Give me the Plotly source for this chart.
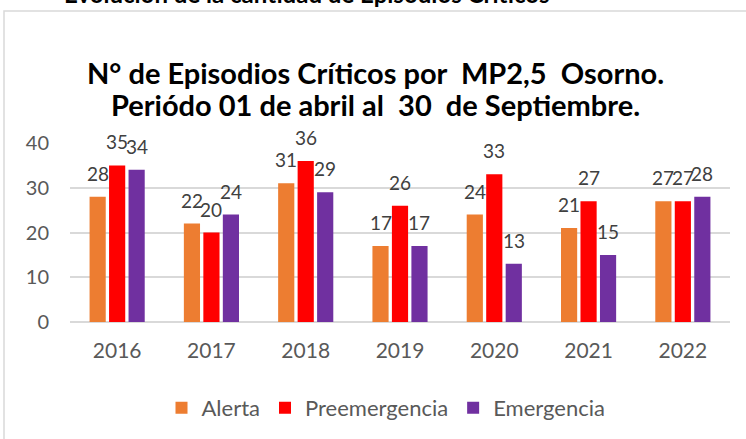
import plotly.graph_objects as go

years = ["2016", "2017", "2018", "2019", "2020", "2021", "2022"]
alerta = [28, 22, 31, 17, 24, 21, 27]
preemergencia = [35, 20, 36, 26, 33, 27, 27]
emergencia = [34, 24, 29, 17, 13, 15, 28]
series_names = ["Alerta", "Preemergencia", "Emergencia"]
colors = ["#ED7D31", "#FF0000", "#7030A0"]

font_family = "Lato, 'Liberation Sans', sans-serif"

L, R, T, B = 70, 16, 143, 117
W, H = 746, 439
pw, ph = W - L - R, H - T - B
BARGAP, GROUPGAP = 0.38, 0.17
slot = pw / len(years) * (1 - BARGAP) / len(series_names)


def px_x(x):
    return (x - L) / pw


def px_y(y):
    return (H - B - y) / ph


fig = go.Figure()
label_annotations = []
all_series = [alerta, preemergencia, emergencia]
for i, (name, vals, col) in enumerate(zip(series_names, all_series, colors)):
    fig.add_trace(go.Bar(
        x=years, y=vals, name=name,
        marker=dict(color=col, line=dict(width=0)),
        cliponaxis=False,
    ))
    for j, v in enumerate(vals):
        # category index j on the category axis
        label_annotations.append(dict(
            x=j, y=v, xref="x", yref="y", text=str(v), showarrow=False,
            xanchor="center", yanchor="bottom", yshift=10,
            xshift=(i - (len(series_names) - 1) / 2) * slot,
            font=dict(size=19, color="#404040", family=font_family),
        ))

fig.update_layout(
    width=W, height=H,
    margin=dict(l=L, r=R, t=T, b=B, autoexpand=False),
    paper_bgcolor="white", plot_bgcolor="white",
    barmode="group", bargap=BARGAP, bargroupgap=GROUPGAP,
    font=dict(family=font_family, color="#595959", size=18),
    showlegend=True,
    legend=dict(orientation="h", x=px_x(386), xanchor="center", y=px_y(408), yanchor="middle",
                font=dict(size=22, color="#595959"), itemwidth=30, traceorder="normal"),
    xaxis=dict(type="category", categoryarray=years, categoryorder="array",
               showgrid=False, showline=False, ticks="", automargin=False,
               ticklabelstandoff=14, tickfont=dict(size=21, color="#595959")),
    yaxis=dict(range=[0, 40], dtick=10, showgrid=True, gridcolor="#D9D9D9", gridwidth=1.5,
               zeroline=True, zerolinecolor="#D9D9D9", zerolinewidth=1.5, showline=False,
               ticks="", automargin=False, ticklabelstandoff=20,
               tickfont=dict(size=20, color="#595959")),
    annotations=label_annotations + [
        dict(text="<b>N° de Episodios Críticos por  MP2,5  Osorno.</b>",
             xref="paper", yref="paper", x=px_x(375), y=px_y(72),
             xanchor="center", yanchor="middle", showarrow=False,
             font=dict(size=29, color="black", family=font_family)),
        dict(text="<b>Periódo 01 de abril al  30  de Septiembre.</b>",
             xref="paper", yref="paper", x=px_x(375), y=px_y(105),
             xanchor="center", yanchor="middle", showarrow=False,
             font=dict(size=29, color="black", family=font_family)),
        dict(text="<b>Evolución de la cantidad de Episodios Críticos</b>",
             xref="paper", yref="paper", x=px_x(552), y=px_y(-7),
             xanchor="right", yanchor="middle", showarrow=False,
             font=dict(size=24, color="black", family=font_family)),
    ],
    shapes=[
        dict(type="rect", xref="paper", yref="paper",
             x0=px_x(4), x1=px_x(760), y0=px_y(460), y1=px_y(11),
             line=dict(color="#D9D9D9", width=1.5), fillcolor="rgba(0,0,0,0)", layer="below"),
    ],
)

fig.write_html("out.html", config={"displayModeBar": False},
               post_script="document.body.style.margin='0';document.body.style.overflow='hidden';")
